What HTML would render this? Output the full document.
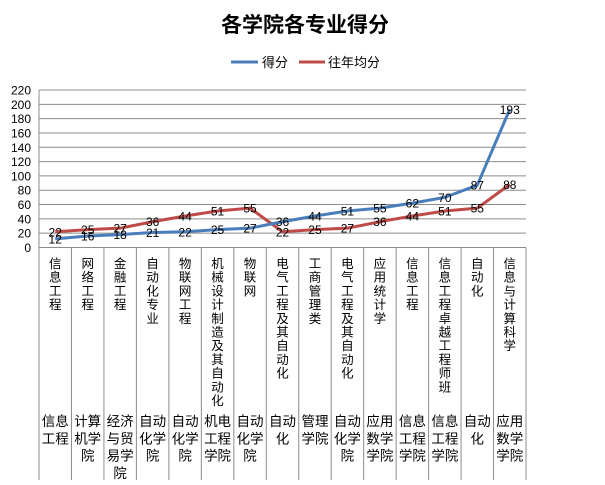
<!DOCTYPE html>
<html><head><meta charset="utf-8"><style>
body{margin:0;background:#fff;}
svg text{font-family:"Liberation Sans","Noto Sans CJK SC",sans-serif;}
</style></head><body>
<svg width="605" height="480" viewBox="0 0 605 480">
<text x="305" y="32" text-anchor="middle" font-size="21" font-weight="bold">各学院各专业得分</text>
<g>
<line x1="231" y1="62" x2="258" y2="62" stroke="#4a7ebb" stroke-width="3"/>
<text x="262" y="67" font-size="13">得分</text>
<line x1="299" y1="62" x2="325" y2="62" stroke="#be4b48" stroke-width="3"/>
<text x="328" y="67" font-size="13">往年均分</text>
</g>
<g id="grid"></g><g id="yticks"></g><g id="table"></g><g id="series"></g><g id="labels"></g>
</svg>
<script>
const categories=["信息工程","网络工程","金融工程","自动化专业","物联网工程","机械设计制造及其自动化","物联网","电气工程及其自动化","工商管理类","电气工程及其自动化","应用统计学","信息工程","信息工程卓越工程师班","自动化","信息与计算科学"];
const colleges=[["信息","工程"],["计算","机学","院"],["经济","与贸","易学","院"],["自动","化学","院"],["自动","化学","院"],["机电","工程","学院"],["自动","化学","院"],["自动","化"],["管理","学院"],["自动","化学","院"],["应用","数学","学院"],["信息","工程","学院"],["信息","工程","学院"],["自动","化"],["应用","数学","学院"]];
const scores=[12,16,18,21,22,25,27,36,44,51,55,62,70,87,193];
const averages=[22,25,27,36,44,51,55,22,25,27,36,44,51,55,88];
const yTicks=[0,20,40,60,80,100,120,140,160,180,200,220];
const NS="http://www.w3.org/2000/svg";
const X0=39,X1=526,Y0=247.5,YT=90,YMAX=220;
const bw=(X1-X0)/categories.length;
const xs=i=>X0+bw*(i+0.5);
const ys=v=>Y0-(v/YMAX)*(Y0-YT);
function mk(t,a,p){const e=document.createElementNS(NS,t);for(const k in a)e.setAttribute(k,a[k]);p.appendChild(e);return e;}
const grid=document.getElementById('grid'),yt=document.getElementById('yticks'),tb=document.getElementById('table'),se=document.getElementById('series'),lb=document.getElementById('labels');
yTicks.forEach(v=>{
  const l=mk('line',{x1:X0,x2:X1,y1:ys(v),y2:ys(v),stroke:'#8c8c8c','stroke-width':1},grid);
  
  
  const t=mk('text',{x:31,y:ys(v)+4.5,'text-anchor':'end','font-size':12},yt);t.textContent=v;
  
  
});
const ax=mk('line',{x1:X0,x2:X0,y1:YT,y2:Y0,stroke:'#8c8c8c'},grid);


for(let i=0;i<=categories.length;i++){
  const x=X0+bw*i;
  const l=mk('line',{x1:x,x2:x,y1:Y0,y2:480,stroke:'#8c8c8c'},tb);
  
  
}
categories.forEach((c,i)=>{
  const g=mk('g',{},tb);
  
  
  [...c].forEach((ch,j)=>{const t=mk('text',{x:xs(i),y:268+j*13.7,'text-anchor':'middle','font-size':12.5},g);t.textContent=ch;});
  const g2=mk('g',{},tb);
  
  
  colleges[i].forEach((s,j)=>{const t=mk('text',{x:xs(i),y:426+j*17.3,'text-anchor':'middle','font-size':13.5},g2);t.textContent=s;});
});
function series(vals,color,name){
  const p=mk('polyline',{points:vals.map((v,i)=>xs(i)+','+ys(v)).join(' '),fill:'none',stroke:color,'stroke-width':3,'stroke-linejoin':'round'},se);
  
  
  vals.forEach((v,i)=>{const t=mk('text',{x:xs(i),y:ys(v)+4.5,'text-anchor':'middle','font-size':12},lb);t.textContent=v;
  
  });
}
series(averages,'#be4b48','average');
series(scores,'#4a7ebb','score');
</script>
</body></html>
